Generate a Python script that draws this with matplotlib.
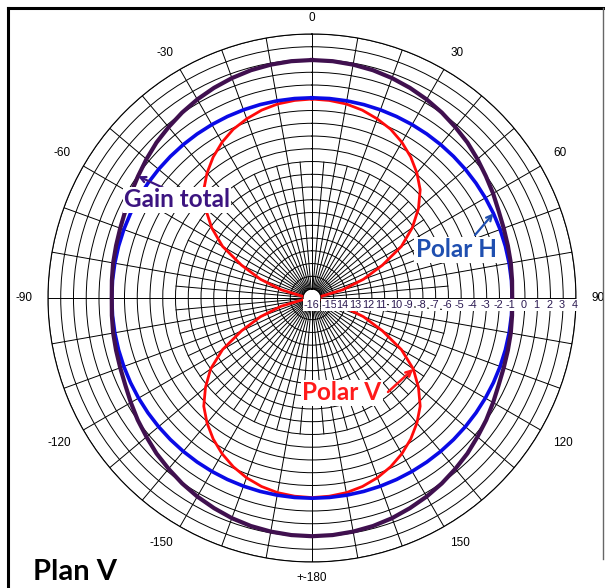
import numpy as np
import matplotlib.pyplot as plt

# angles in degrees, clockwise from top
angles = np.arange(0, 360, 5)

polar_v = [-1.1, -1.15, -1.25, -1.45, -1.75, -2.1, -2.6, -3.2, -3.9, -4.7, -5.8, -7.1, -8.6, -10.6, -12.4, -14.2, -16.0, -16.7,
           -16.7, -16.7, -16.0, -14.2, -12.4, -10.6, -8.6, -7.0, -5.8, -4.7, -3.9, -3.2, -2.6, -2.1, -1.7, -1.4, -1.2, -1.1,
           -1.05, -1.1, -1.2, -1.4, -1.7, -2.1, -2.6, -3.2, -3.9, -4.7, -5.8, -7.0, -8.6, -10.6, -12.4, -14.2, -16.0, -16.7,
           -16.7, -16.7, -16.0, -14.2, -12.4, -10.6, -8.6, -7.1, -5.8, -4.7, -3.9, -3.2, -2.6, -2.1, -1.75, -1.45, -1.25, -1.15]

polar_h = [-1.0, -1.0, -1.0, -1.0, -1.0, -1.0, -1.0, -1.0, -1.0, -1.0, -1.0, -1.0, -1.0, -1.0, -1.0, -1.0, -1.0, -1.0,
           -1.0, -1.0, -1.0, -1.0, -1.0, -1.0, -1.0, -1.0, -1.0, -1.0, -1.0, -1.0, -1.0, -1.0, -1.0, -1.0, -1.0, -1.0,
           -1.0, -1.0, -1.0, -1.0, -1.0, -1.0, -1.0, -1.0, -1.0, -1.0, -1.0, -1.0, -1.0, -1.0, -1.0, -1.0, -1.0, -1.0,
           -1.0, -1.0, -1.0, -1.0, -1.0, -1.0, -1.0, -1.0, -1.0, -1.0, -1.0, -1.0, -1.0, -1.0, -1.0, -1.0, -1.0, -1.0]

gain_total = [1.96, 1.94, 1.88, 1.79, 1.65, 1.48, 1.28, 1.05, 0.79, 0.54, 0.24, -0.05, -0.3, -0.55, -0.7, -0.8, -0.87, -0.95,
              -1.0, -0.95, -0.87, -0.8, -0.7, -0.55, -0.3, -0.02, 0.24, 0.54, 0.79, 1.05, 1.28, 1.48, 1.67, 1.81, 1.9, 1.96,
              1.98, 1.96, 1.9, 1.81, 1.67, 1.48, 1.28, 1.05, 0.79, 0.54, 0.24, -0.02, -0.3, -0.55, -0.7, -0.8, -0.87, -0.95,
              -1.0, -0.95, -0.87, -0.8, -0.7, -0.55, -0.3, -0.05, 0.24, 0.54, 0.79, 1.05, 1.28, 1.48, 1.65, 1.79, 1.88, 1.94]

rings = [-16, -15, -14, -13, -12, -11, -10, -9, -8, -7, -6, -5, -4, -3, -2, -1, 0, 1, 2, 3, 4]
ring_labels = ['-16', '-15', '14', '13', '12', '11', '10', '-9', '-8', '-7', '-6', '-5', '-4', '-3', '-2', '-1',
               '0', '1', '2', '3', '4']
spokes = list(range(0, 360, 10))
fine_spokes = list(range(5, 360, 10))
label_angles = [0, 30, 60, 90, 120, 150, 180, 210, 240, 270, 300, 330]
angle_labels = ['0', '30', '60', '90', '120', '150', '+-180', '-150', '-120', '-90', '-60', '-30']

fig = plt.figure(figsize=(6.05, 5.88), dpi=100)
ax = fig.add_axes([0.0793, 0.0442, 0.8727, 0.898], projection='polar')
ax.set_theta_zero_location('N')
ax.set_theta_direction(-1)
ax.set_rlim(-16, 4)
ax.set_rorigin(-16.7)

ax.set_yticks(rings)
ax.set_yticklabels([])
ax.set_xticks(np.deg2rad(spokes))
ax.set_xticklabels([])
ax.grid(True, color='black', lw=0.7)
for s in ax.spines.values():
    s.set_color('black')
    s.set_linewidth(0.8)

# inner 5 degree spokes
for a in fine_spokes:
    ax.plot([np.deg2rad(a), np.deg2rad(a)], [-16, -6], color='black', lw=0.7, zorder=1)

th = np.deg2rad(np.append(angles, 360))
ax.plot(th, np.append(polar_v, polar_v[0]), color='#ff0a0a', lw=2.0, zorder=4)
ax.plot(th, np.append(polar_h, polar_h[0]), color='#0a0ae6', lw=2.6, zorder=5)
ax.plot(th, np.append(gain_total, gain_total[0]), color='#40104f', lw=3.0, zorder=6)

# angle labels around the outer ring
for a, lbl in zip(label_angles, angle_labels):
    s, c = np.sin(np.deg2rad(a)), np.cos(np.deg2rad(a))
    ha = 'left' if s > 0.3 else ('right' if s < -0.3 else 'center')
    va = 'bottom' if c > 0.3 else ('top' if c < -0.3 else 'center')
    d = 7 + 4 * abs(s)
    ax.annotate(lbl, xy=(np.deg2rad(a), 4), xytext=(d * s, d * c), textcoords='offset points',
                ha=ha, va=va, fontsize=8.5, family='Liberation Sans', annotation_clip=False)

# radial scale labels along 90 deg (inner ones crowd to the left, as in the original)
for r, lbl in zip(rings, ring_labels):
    dx = -7 if r == -16 else (-3 if r <= -11 else -1)
    ax.annotate(lbl, xy=(np.deg2rad(90), r), xytext=(dx, -1.5), textcoords='offset points',
                ha='center', va='top', fontsize=7.8, family='Liberation Sans', color='#2a1850',
                bbox=dict(facecolor='white', edgecolor='none', pad=0.5), zorder=7,
                annotation_clip=False)

def px(x, y):
    return (x / 605, 1 - y / 588)

fnt = dict(family='Lato', weight='bold', fontsize=17.5)
fig.text(*px(177, 200), 'Gain total', color='#3c1480', ha='center', va='center',
         bbox=dict(facecolor='white', edgecolor='none', pad=1), zorder=8, **fnt)
fig.text(*px(456, 250), 'Polar H', color='#1f4fb0', ha='center', va='center',
         bbox=dict(facecolor='white', edgecolor='none', pad=1), zorder=8, **fnt)
fig.text(*px(342, 393), 'Polar V', color='#ff1a1a', ha='center', va='center',
         bbox=dict(facecolor='white', edgecolor='none', pad=1), zorder=8, **fnt)
fig.text(*px(33, 572), 'Plan V', color='black', ha='left', va='center',
         family='Lato', weight='bold', fontsize=21)

ax.annotate('', xy=(np.deg2rad(angles[61]), gain_total[61]), xytext=px(168, 190), textcoords='figure fraction',
            arrowprops=dict(arrowstyle='->', color='#3c1480', lw=1.6, shrinkA=0, shrinkB=0), zorder=8)
ax.annotate('', xy=(np.deg2rad(angles[13]), polar_h[13]), xytext=px(475, 235), textcoords='figure fraction',
            arrowprops=dict(arrowstyle='->', color='#1f4fb0', lw=1.6, shrinkA=0, shrinkB=0), zorder=8)
ax.annotate('', xy=(np.deg2rad(angles[25]), polar_v[25]), xytext=px(388, 392), textcoords='figure fraction',
            arrowprops=dict(arrowstyle='->', color='#ff1a1a', lw=1.8, shrinkA=0, shrinkB=0), zorder=8)

# frame
fig.add_artist(plt.Line2D([8 / 605, 8 / 605], [0, 1 - 8 / 588], color='black', lw=2.2, transform=fig.transFigure))
fig.add_artist(plt.Line2D([8 / 605, 603 / 605], [1 - 8 / 588, 1 - 8 / 588], color='black', lw=2.2, transform=fig.transFigure))
fig.add_artist(plt.Line2D([603 / 605, 603 / 605], [1 - 8 / 588, 0.05], color='#666666', lw=1, transform=fig.transFigure))

fig.savefig('out.png', dpi=100)
plt.close()
